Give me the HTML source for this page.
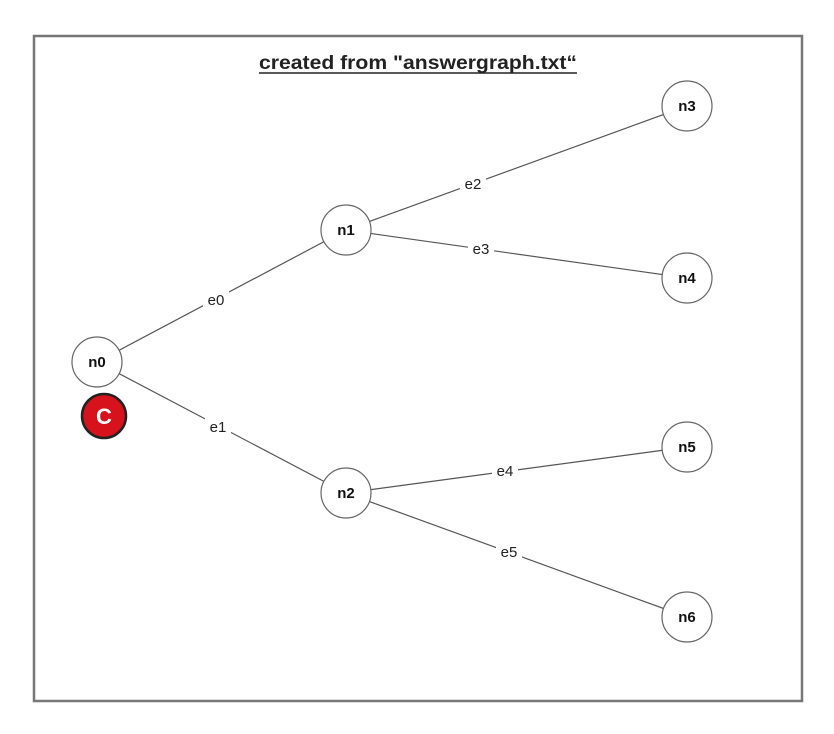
<!DOCTYPE html>
<html><head><style>
html,body{margin:0;padding:0;background:#fff;}
svg{display:block;}
text{font-family:"Liberation Sans",Arial,sans-serif;}
</style></head><body>
<svg width="834" height="734" viewBox="0 0 834 734" xmlns="http://www.w3.org/2000/svg">
<rect x="0" y="0" width="834" height="734" fill="#fff"/>
<rect x="34" y="36" width="768" height="665" fill="none" stroke="#777" stroke-width="2.5"/>
<text x="259" y="69" font-size="19" font-weight="bold" fill="#222" textLength="318" lengthAdjust="spacingAndGlyphs">created from "answergraph.txt“</text>
<line x1="259" y1="73" x2="577" y2="73" stroke="#222" stroke-width="1.5"/>
<g stroke="#555" stroke-width="1.2">
<line x1="97" y1="362" x2="346" y2="230"/>
<line x1="97" y1="362" x2="346" y2="493"/>
<line x1="346" y1="230" x2="687" y2="106"/>
<line x1="346" y1="230" x2="687" y2="278"/>
<line x1="346" y1="493" x2="687" y2="447"/>
<line x1="346" y1="493" x2="687" y2="617"/>
</g>
<g fill="#fff">
<rect x="203" y="290" width="26" height="20"/>
<rect x="205" y="417" width="26" height="20"/>
<rect x="460" y="174" width="26" height="20"/>
<rect x="468" y="239" width="26" height="20"/>
<rect x="492" y="461" width="26" height="20"/>
<rect x="496" y="542" width="26" height="20"/>
</g>
<g font-size="15" fill="#222" text-anchor="middle">
<text x="216" y="305">e0</text>
<text x="218" y="432">e1</text>
<text x="473" y="189">e2</text>
<text x="481" y="254">e3</text>
<text x="505" y="476">e4</text>
<text x="509" y="557">e5</text>
</g>
<g fill="#fff" stroke="#666" stroke-width="1.2">
<circle cx="97" cy="362" r="25"/>
<circle cx="346" cy="230" r="25"/>
<circle cx="346" cy="493" r="25"/>
<circle cx="687" cy="106" r="25"/>
<circle cx="687" cy="278" r="25"/>
<circle cx="687" cy="447" r="25"/>
<circle cx="687" cy="617" r="25"/>
</g>
<g font-size="15" font-weight="bold" fill="#111" text-anchor="middle">
<text x="97" y="367">n0</text>
<text x="346" y="235">n1</text>
<text x="346" y="498">n2</text>
<text x="687" y="111">n3</text>
<text x="687" y="283">n4</text>
<text x="687" y="452">n5</text>
<text x="687" y="622">n6</text>
</g>
<circle cx="104" cy="416" r="22" fill="#d8121c" stroke="#222" stroke-width="2.5"/>
<text x="104" y="424" text-anchor="middle" font-size="22" font-weight="bold" fill="#fff">C</text>
</svg>
</body></html>
